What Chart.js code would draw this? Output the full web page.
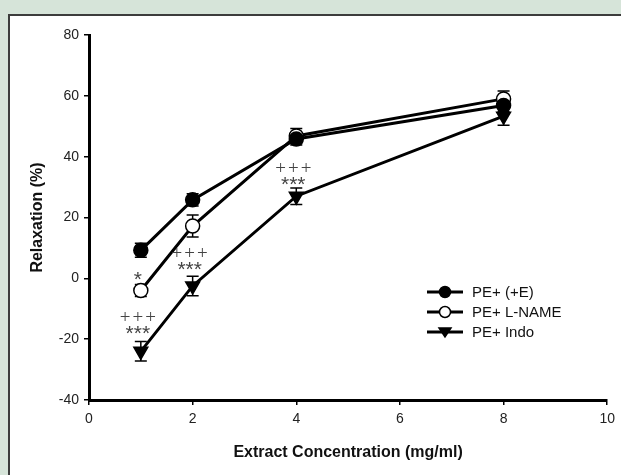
<!DOCTYPE html>
<html>
<head>
<meta charset="utf-8">
<script src="https://cdn.jsdelivr.net/npm/chart.js@4.4.1/dist/chart.umd.min.js"></script>
<style>
  html, body { margin: 0; padding: 0; width: 621px; height: 475px; overflow: hidden; background: #d6e4d9; }
  #panel { position: absolute; left: 8px; top: 14px; width: 700px; height: 600px; background: #fff; border: 2px solid #3c3c3c; }
  #chart { position: absolute; left: 0; top: 0; }
</style>
</head>
<body>
<div id="panel"></div>
<canvas id="chart" width="621" height="475"></canvas>
<script>
// Concentrations (mg/ml)
const concentrations = [1, 2, 4, 8];

// Relaxation (%) mean values per group
const peE      = [9.2, 25.8, 45.8, 56.8];
const peLName  = [-4.0, 17.2, 46.8, 59.0];
const peIndo   = [-24.0, -2.5, 27.0, 53.3];

// SEM for each point
const peEErr     = [2.3, 2.0, 2.0, 2.0];
const peLNameErr = [2.0, 3.6, 2.5, 2.6];
const peIndoErr  = [3.2, 3.2, 2.7, 3.0];

// Significance markers
const annX    = [1, 1, 1, 2, 2, 4, 4];
const annY    = [0.8, -13.2, -17.2, 8.0, 4.0, 36.0, 32.0];
const annText = ['*', '+++', '***', '+++', '***', '+++', '***'];

const seriesNames = ['PE+ (+E)', 'PE+ L-NAME', 'PE+ Indo'];

function toPoints(values) {
  return concentrations.map((c, i) => ({ x: c, y: values[i] }));
}

// Error bars drawn under the markers
const errorBarPlugin = {
  id: 'errorBars',
  beforeDatasetsDraw(chart) {
    const ctx = chart.ctx;
    const xs = chart.scales.x;
    const ys = chart.scales.y;
    const errs = [peEErr, peLNameErr, peIndoErr];
    const vals = [peE, peLName, peIndo];
    ctx.save();
    ctx.strokeStyle = '#000';
    ctx.lineWidth = 1.5;
    vals.forEach((series, s) => {
      series.forEach((v, i) => {
        const px = xs.getPixelForValue(concentrations[i]);
        const top = ys.getPixelForValue(v + errs[s][i]);
        const bot = ys.getPixelForValue(v - errs[s][i]);
        ctx.beginPath();
        ctx.moveTo(px, top); ctx.lineTo(px, bot);
        ctx.moveTo(px - 6, top); ctx.lineTo(px + 6, top);
        ctx.moveTo(px - 6, bot); ctx.lineTo(px + 6, bot);
        ctx.stroke();
      });
    });
    ctx.restore();
  }
};

// Significance text and legend
const extrasPlugin = {
  id: 'extras',
  afterDatasetsDraw(chart) {
    const ctx = chart.ctx;
    const xs = chart.scales.x;
    const ys = chart.scales.y;
    ctx.save();
    ctx.fillStyle = '#444';
    ctx.textAlign = 'center';
    ctx.textBaseline = 'middle';
    annText.forEach((t, i) => {
      const px = xs.getPixelForValue(annX[i]) - 3;
      const py = ys.getPixelForValue(annY[i]);
      if (t.startsWith('+')) {
        ctx.font = '19px "Liberation Serif", serif';
        ctx.letterSpacing = '2px';
        ctx.fillText(t, px + 1, py);
      } else {
        ctx.font = '21px "Liberation Sans", Arial, sans-serif';
        ctx.letterSpacing = '0px';
        ctx.fillText(t, px, py + 4);
      }
    });
    ctx.letterSpacing = '0px';

    // legend
    const lx = 427, ly = 292, gap = 20;
    chart.data.datasets.forEach((ds, i) => {
      const y = ly + i * gap;
      ctx.strokeStyle = '#000';
      ctx.lineWidth = 3;
      ctx.beginPath();
      ctx.moveTo(lx, y); ctx.lineTo(lx + 36, y);
      ctx.stroke();
      ctx.lineWidth = 1.5;
      ctx.fillStyle = ds.pointBackgroundColor;
      ctx.beginPath();
      if (ds.pointStyle === 'triangle') {
        ctx.moveTo(lx + 12, y - 4); ctx.lineTo(lx + 24, y - 4); ctx.lineTo(lx + 18, y + 5);
        ctx.closePath();
      } else {
        ctx.arc(lx + 18, y, 5.5, 0, Math.PI * 2);
      }
      ctx.fill(); ctx.stroke();
      ctx.fillStyle = '#111';
      ctx.textAlign = 'left';
      ctx.font = '15px "Liberation Sans", Arial, sans-serif';
      ctx.fillText(seriesNames[i], lx + 45, y + 1);
    });
    ctx.restore();
  }
};

const lineStyle = {
  borderColor: '#000',
  borderWidth: 3,
  pointBorderColor: '#000',
  pointBorderWidth: 1.5,
  pointRadius: 7,
  pointHoverRadius: 7,
  tension: 0
};

new Chart(document.getElementById('chart'), {
  type: 'line',
  data: {
    datasets: [
      { label: seriesNames[0], data: toPoints(peE), ...lineStyle, pointStyle: 'circle', pointBackgroundColor: '#000' },
      { label: seriesNames[1], data: toPoints(peLName), ...lineStyle, pointStyle: 'circle', pointBackgroundColor: '#fff' },
      { label: seriesNames[2], data: toPoints(peIndo), ...lineStyle, pointStyle: 'triangle', pointRotation: 180, pointBackgroundColor: '#000', pointRadius: 8 }
    ]
  },
  options: {
    responsive: false,
    devicePixelRatio: 1,
    animation: false,
    layout: { padding: { top: 35, right: 9, bottom: 0, left: 0 } },
    plugins: { legend: { display: false }, tooltip: { enabled: false } },
    scales: {
      x: {
        type: 'linear',
        min: 0, max: 10,
        ticks: { stepSize: 2, color: '#222', font: { family: '"Liberation Sans", Arial, sans-serif', size: 14 }, padding: 6 },
        grid: { drawOnChartArea: false, drawTicks: true, tickLength: 5, color: '#000', lineWidth: 1.5 },
        border: { color: '#000', width: 3 },
        title: { display: true, text: 'Extract Concentration (mg/ml)', color: '#111',
                 font: { family: '"Liberation Sans", Arial, sans-serif', size: 16, weight: 'bold' }, padding: { top: 0, bottom: 13 } },
        afterFit(scale) { scale.height = 75; }
      },
      y: {
        min: -40, max: 80,
        ticks: { stepSize: 20, color: '#222', font: { family: '"Liberation Sans", Arial, sans-serif', size: 14 }, padding: 5 },
        grid: { drawOnChartArea: false, drawTicks: true, tickLength: 5, color: '#000', lineWidth: 1.5 },
        border: { color: '#000', width: 3 },
        title: { display: true, text: 'Relaxation (%)', color: '#111',
                 font: { family: '"Liberation Sans", Arial, sans-serif', size: 16, weight: 'bold' }, padding: { top: 28, bottom: 0 } },
        afterFit(scale) { scale.width = 89; }
      }
    }
  },
  plugins: [errorBarPlugin, extrasPlugin]
});
</script>
</body>
</html>
